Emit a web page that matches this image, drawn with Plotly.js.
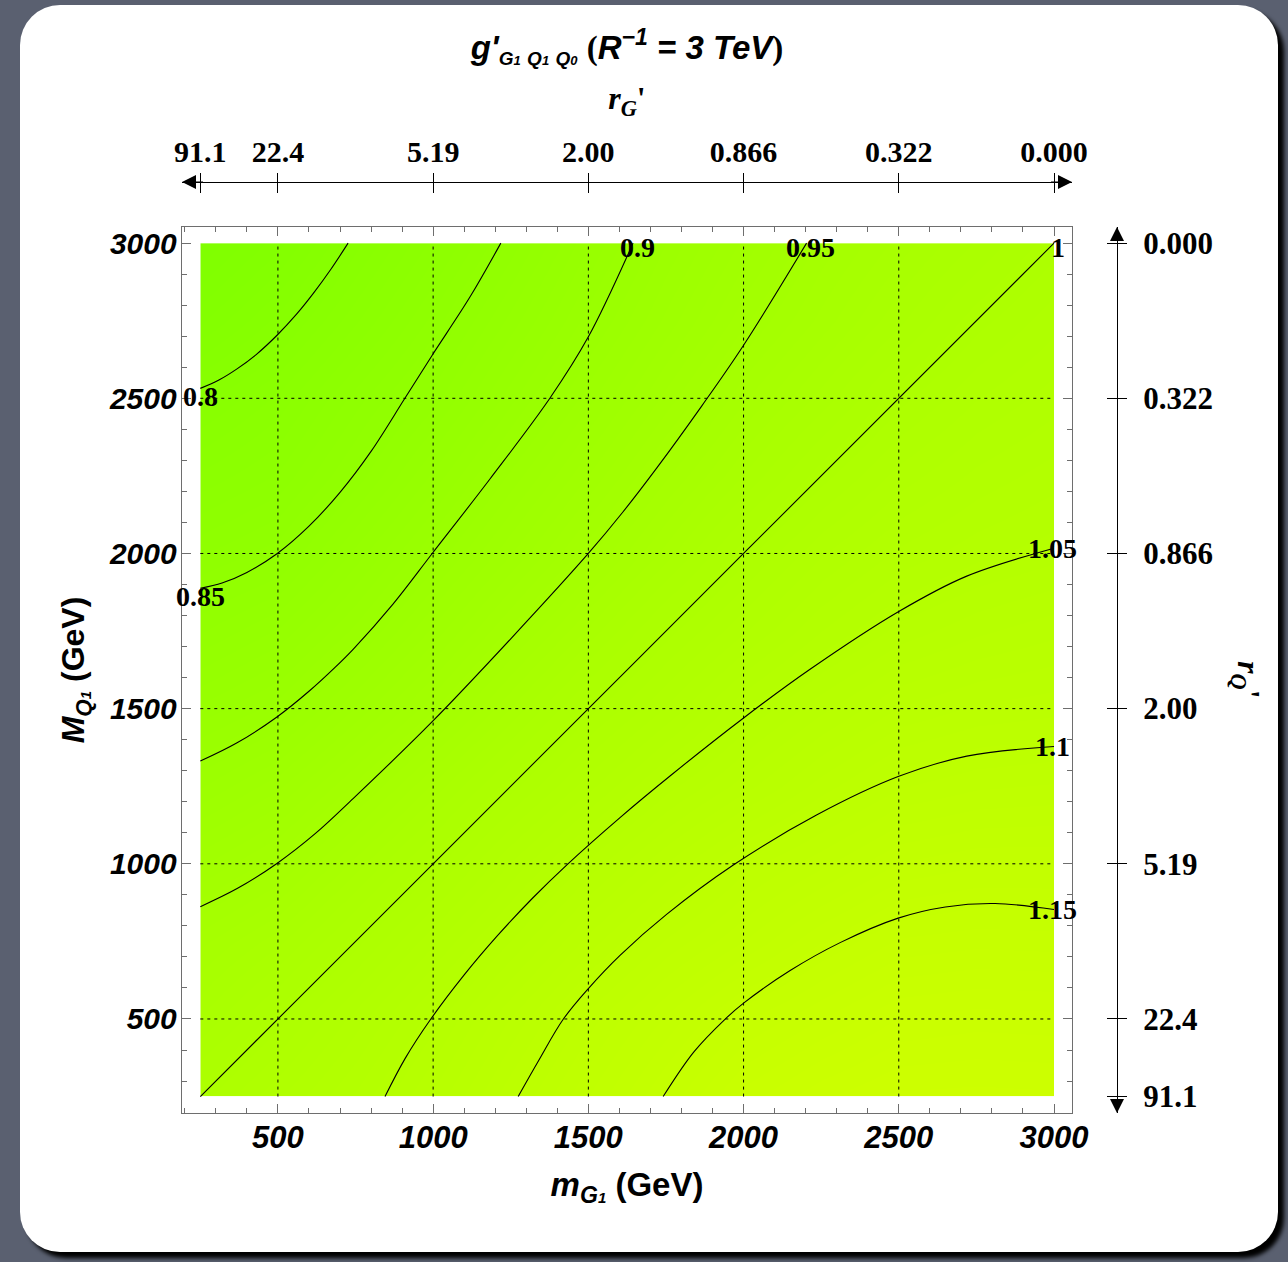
<!DOCTYPE html>
<html><head><meta charset="utf-8">
<script src="https://cdn.plot.ly/plotly-3.0.1.min.js"></script>
<style>
html,body{margin:0;padding:0;width:1288px;height:1262px;overflow:hidden;background:#5a6070;}
#card{position:absolute;left:20px;top:5px;width:1258px;height:1247px;background:#fff;border-radius:40px;box-shadow:6px 6px 4px #000;}
#chart{position:absolute;left:0;top:0;width:1288px;height:1262px;}
</style></head><body><div id="card"></div><div id="chart"></div>
<script>
// ---- data ----
// shading grid
const mG1 = [250, 500, 750, 1000, 1250, 1500, 1750, 2000, 2250, 2500, 2750, 3000];
const MQ1 = [250, 500, 750, 1000, 1250, 1500, 1750, 2000, 2250, 2500, 2750, 3000];
// rows: MQ1 values, columns: mG1 values
const gRatio = [
  [1.000, 1.021, 1.042, 1.068, 1.097, 1.124, 1.151, 1.178, 1.193, 1.202, 1.203, 1.202],
  [0.978, 1.000, 1.025, 1.051, 1.080, 1.108, 1.132, 1.155, 1.169, 1.182, 1.185, 1.184],
  [0.960, 0.976, 1.000, 1.027, 1.054, 1.082, 1.106, 1.124, 1.143, 1.157, 1.160, 1.159],
  [0.935, 0.950, 0.975, 1.000, 1.029, 1.056, 1.080, 1.102, 1.116, 1.131, 1.136, 1.136],
  [0.909, 0.924, 0.948, 0.974, 1.000, 1.026, 1.051, 1.070, 1.089, 1.104, 1.110, 1.112],
  [0.885, 0.897, 0.921, 0.946, 0.973, 1.000, 1.023, 1.047, 1.065, 1.080, 1.087, 1.090],
  [0.862, 0.874, 0.896, 0.922, 0.948, 0.974, 1.000, 1.021, 1.041, 1.056, 1.065, 1.071],
  [0.841, 0.850, 0.875, 0.900, 0.925, 0.950, 0.975, 1.000, 1.021, 1.036, 1.045, 1.051],
  [0.822, 0.832, 0.854, 0.880, 0.906, 0.931, 0.956, 0.978, 1.000, 1.018, 1.030, 1.038],
  [0.803, 0.817, 0.839, 0.860, 0.887, 0.913, 0.938, 0.961, 0.980, 1.000, 1.015, 1.025],
  [0.778, 0.797, 0.820, 0.844, 0.870, 0.897, 0.922, 0.945, 0.964, 0.982, 1.000, 1.013],
  [0.758, 0.777, 0.803, 0.828, 0.854, 0.883, 0.910, 0.932, 0.953, 0.969, 0.984, 1.000]
];
// contour lines, points (mG1, MQ1 in GeV)
const c080x = [250, 310, 367, 430, 498, 560, 614, 670, 726];
const c080y = [2532, 2559, 2594, 2641, 2704, 2771, 2838, 2915, 3000];
const c085x = [250, 320, 400, 498, 600, 700, 800, 909, 997, 1119, 1218];
const c085y = [1888, 1905, 1939, 2000, 2088, 2197, 2329, 2500, 2639, 2827, 3000];
const c090x = [250, 367, 498, 600, 684, 743, 870, 997, 1183, 1376, 1500, 1644];
const c090y = [1331, 1389, 1474, 1556, 1633, 1692, 1836, 2000, 2240, 2500, 2698, 3000];
const c095x = [250, 370, 498, 620, 743, 997, 1250, 1500, 1610, 1720, 1865, 2000, 2203];
const c095y = [862, 921, 1002, 1097, 1211, 1458, 1725, 2000, 2132, 2275, 2475, 2671, 3000];
const c100x = [250, 1000, 2000, 3000];
const c100y = [250, 1000, 2000, 3000];
const c105x = [845, 910, 992, 1100, 1205, 1320, 1430, 1602, 1768, 2000, 2213, 2500, 2719, 3000];
const c105y = [250, 373, 499, 642, 766, 889, 996, 1149, 1287, 1470, 1626, 1813, 1927, 2017];
const c110x = [1274, 1340, 1419, 1500, 1602, 1752, 1967, 2235, 2498, 2719, 3000];
const c110y = [250, 366, 499, 598, 705, 837, 996, 1157, 1281, 1347, 1378];
const c115x = [1741, 1840, 1940, 2000, 2150, 2311, 2498, 2650, 2810, 3000];
const c115y = [250, 394, 499, 551, 656, 746, 825, 861, 872, 853];
const contourLevels = [0.8, 0.85, 0.9, 0.95, 1, 1.05, 1.1, 1.15];
const contourX = [c080x, c085x, c090x, c095x, c100x, c105x, c110x, c115x];
const contourY = [c080y, c085y, c090y, c095y, c100y, c105y, c110y, c115y];
const labelAtStart = [true, true, false, false, false, false, false, false];
// axis ticks
const mainTicks = [500, 1000, 1500, 2000, 2500, 3000];
const rGTickVals = [250, 500, 1000, 1500, 2000, 2500, 3000];
const rGTickText = ['91.1', '22.4', '5.19', '2.00', '0.866', '0.322', '0.000'];
const rQTickVals = [250, 500, 1000, 1500, 2000, 2500, 3000];
const rQTickText = ['91.1', '22.4', '5.19', '2.00', '0.866', '0.322', '0.000'];

// ---- geometry / styles ----
const L = 182, R = 1117, T = 182, B = 1113, frameRight = 1072, frameTop = 227;
const xDom = [0, (frameRight - L) / (R - L)];
const yDom = [0, (B - frameTop) / (B - T)];
const xRange = [191, 3058], yRange = [197, 3052];
const sans = 'Liberation Sans, Arial, sans-serif';
const serif = 'Liberation Serif, Times New Roman, serif';
const frameCol = '#6e6e6e';

const traces = [
  {
    type: 'contour', x: mG1, y: MQ1, z: gRatio,
    contours: {coloring: 'heatmap', showlines: false, showlabels: false},
    colorscale: [[0, 'rgb(126,255,0)'], [0.5, 'rgb(170,255,0)'], [1, 'rgb(206,255,0)']],
    zmin: 0.75, zmax: 1.21, zauto: false,
    line: {width: 0},
    showscale: false, hoverinfo: 'skip'
  }
];
contourLevels.forEach((lv, k) => traces.push({
  type: 'scatter', mode: 'lines', x: contourX[k], y: contourY[k],
  line: {color: '#000', width: 1.1, shape: 'spline', smoothing: 1},
  showlegend: false, hoverinfo: 'skip', cliponaxis: true
}));
traces.push({type: 'scatter', x: [], y: [], xaxis: 'x2', yaxis: 'y', showlegend: false, hoverinfo: 'skip'});
traces.push({type: 'scatter', x: [], y: [], xaxis: 'x3', yaxis: 'y', showlegend: false, hoverinfo: 'skip'});
traces.push({type: 'scatter', x: [], y: [], xaxis: 'x', yaxis: 'y2', showlegend: false, hoverinfo: 'skip'});
traces.push({type: 'scatter', x: [], y: [], xaxis: 'x', yaxis: 'y3', showlegend: false, hoverinfo: 'skip'});

// dotted grid lines over the fill
const shapes = [];
const xMin = Math.min(...mG1), xMax = Math.max(...mG1), yMin = Math.min(...MQ1), yMax = Math.max(...MQ1);
mainTicks.filter(v => v < xMax).forEach(v => shapes.push({type: 'line', xref: 'x', yref: 'y', x0: v, x1: v, y0: yMin, y1: yMax, line: {color: '#000', width: 1, dash: '3px,4px'}, layer: 'above'}));
mainTicks.filter(v => v < yMax).forEach(v => shapes.push({type: 'line', xref: 'x', yref: 'y', x0: xMin, x1: xMax, y0: v, y1: v, line: {color: '#000', width: 1, dash: '3px,4px'}, layer: 'above'}));

// contour labels at the line ends
const annotations = contourLevels.map((lv, k) => {
  const n = contourX[k].length;
  const i = labelAtStart[k] ? 0 : n - 1;
  const onTop = !labelAtStart[k] && contourY[k][i] >= yMax;
  return {x: contourX[k][i], y: contourY[k][i], xref: 'x', yref: 'y',
          xshift: labelAtStart[k] ? 0 : (onTop ? 4 : -2), yshift: labelAtStart[k] ? -8 : (onTop ? -4 : 0),
          text: '<b>' + String(parseFloat(lv.toFixed(2))) + '</b>', showarrow: false,
          font: {family: serif, size: 28, color: '#000'}, xanchor: 'center', yanchor: 'middle'};
});
// arrowheads on the r axes
const arrowBase = {text: ' ', showarrow: true, arrowhead: 2, arrowsize: 2.8, arrowwidth: 1, arrowcolor: '#000', xref: 'paper', yref: 'paper', standoff: 0};
annotations.push(Object.assign({}, arrowBase, {x: 0, y: 1, ax: 24, ay: 0}));
annotations.push(Object.assign({}, arrowBase, {x: xDom[1], y: 1, ax: -24, ay: 0}));
annotations.push(Object.assign({}, arrowBase, {x: 1, y: yDom[1], ax: 0, ay: 24}));
annotations.push(Object.assign({}, arrowBase, {x: 1, y: 0, ax: 0, ay: -24}));
// right axis title (reads top to bottom)
annotations.push({xref: 'paper', yref: 'paper', x: (1247 - L) / (R - L), y: (B - 680) / (B - T), text: "<b><i>r</i><sub><i>Q</i></sub>'</b>", textangle: 90,
  showarrow: false, font: {family: serif, size: 32, color: '#000'}, xanchor: 'center', yanchor: 'middle'});

const sub = (t, n) => "<span style='font-size:19px'>" + t + "</span><span style='font-size:13px'>" + n + "</span>";

const layout = {
  width: 1288, height: 1262,
  paper_bgcolor: 'rgba(0,0,0,0)', plot_bgcolor: '#fff',
  margin: {l: L, r: 1288 - R, t: T, b: 1262 - B, pad: 0},
  showlegend: false,
  title: {
    text: "<i>g'</i><sub><i>" + sub('G', '1') + " " + sub('Q', '1') + " " + sub('Q', '0') + "</i></sub> <span style='font-family:Liberation Serif;font-style:normal'>(</span><i>R</i><sup>−1</sup> = <i>3 TeV</i><span style='font-family:Liberation Serif;font-style:normal'>)</span>",
    font: {family: sans, size: 33, color: '#000', weight: 'bold', style: 'italic'},
    xref: 'container', yref: 'container', x: 627 / 1288, y: 1 - 47 / 1262, xanchor: 'center', yanchor: 'middle'
  },
  xaxis: {
    domain: xDom, range: xRange, tickvals: mainTicks, ticks: 'inside', ticklen: 9, tickwidth: 1, tickcolor: frameCol,
    minor: {dtick: 100, tick0: 0, ticks: 'inside', ticklen: 5, tickwidth: 1, tickcolor: frameCol, showgrid: false},
    showline: true, linecolor: frameCol, linewidth: 1.3, mirror: 'ticks', showgrid: false, zeroline: false,
    tickfont: {family: 'Liberation Sans Narrow, ' + sans, size: 31, color: '#000', weight: 'bold', style: 'italic'},
    ticklabelstandoff: -4,
    title: {text: "<i>m</i><sub><i>G<span style='font-size:15px'>1</span></i></sub> (GeV)", font: {family: 'Liberation Sans Narrow, ' + sans, size: 33, color: '#000', weight: 'bold'}, standoff: 19}
  },
  yaxis: {
    domain: yDom, range: yRange, tickvals: mainTicks, ticks: 'inside', ticklen: 9, tickwidth: 1, tickcolor: frameCol,
    minor: {dtick: 100, tick0: 0, ticks: 'inside', ticklen: 5, tickwidth: 1, tickcolor: frameCol, showgrid: false},
    showline: true, linecolor: frameCol, linewidth: 1.3, mirror: 'ticks', showgrid: false, zeroline: false,
    tickfont: {family: sans, size: 30, color: '#000', weight: 'bold', style: 'italic'},
    ticklabelstandoff: -2,
    title: {text: "<i>M</i><sub><i>Q<span style='font-size:15px'>1</span></i></sub> (GeV)", font: {family: sans, size: 32, color: '#000', weight: 'bold'}, standoff: 14}
  },
  xaxis2: {
    overlaying: 'x', anchor: 'free', position: 1, side: 'top', domain: xDom, range: xRange,
    tickmode: 'array', tickvals: rGTickVals, ticktext: rGTickText, ticks: 'outside', ticklen: 9, tickwidth: 1, tickcolor: '#000',
    showline: true, linecolor: '#000', linewidth: 1, showgrid: false, zeroline: false,
    tickfont: {family: serif, size: 30, color: '#000', weight: 'bold'}, ticklabelstandoff: -1,
    title: {text: "<b><i>r</i><sub><i>G</i></sub>'</b>", font: {family: serif, size: 32, color: '#000'}, standoff: 14}
  },
  xaxis3: {
    overlaying: 'x', anchor: 'free', position: 1, side: 'top', domain: xDom, range: xRange,
    tickmode: 'array', tickvals: rGTickVals, ticks: 'inside', ticklen: 10, tickwidth: 1, tickcolor: '#000',
    showticklabels: false, showline: false, showgrid: false, zeroline: false
  },
  yaxis2: {
    overlaying: 'y', anchor: 'free', position: 1, side: 'right', domain: yDom, range: yRange,
    tickmode: 'array', tickvals: rQTickVals, ticktext: rQTickText, ticks: 'outside', ticklen: 9, tickwidth: 1, tickcolor: '#000',
    showline: true, linecolor: '#000', linewidth: 1, showgrid: false, zeroline: false,
    tickfont: {family: serif, size: 31, color: '#000', weight: 'bold'}, ticklabelstandoff: 10
  },
  yaxis3: {
    overlaying: 'y', anchor: 'free', position: 1, side: 'right', domain: yDom, range: yRange,
    tickmode: 'array', tickvals: rQTickVals, ticks: 'inside', ticklen: 10, tickwidth: 1, tickcolor: '#000',
    showticklabels: false, showline: false, showgrid: false, zeroline: false
  },
  shapes: shapes,
  annotations: annotations
};

Plotly.newPlot('chart', traces, layout, {displayModeBar: false, staticPlot: true});
</script></body></html>
